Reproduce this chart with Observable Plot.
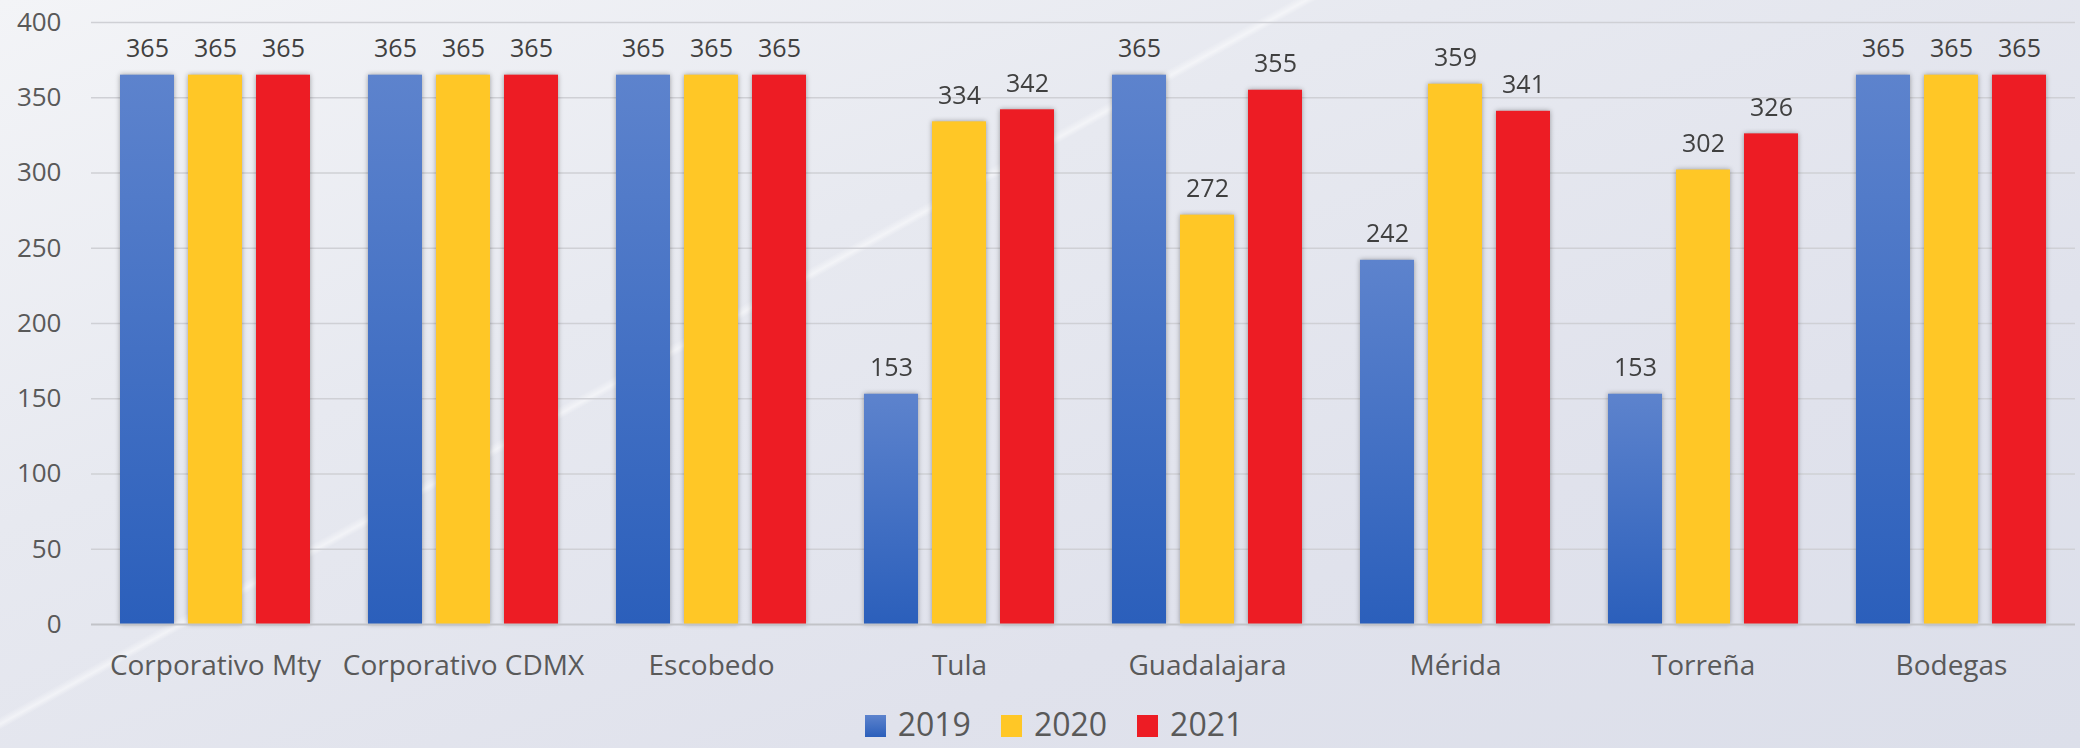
<!DOCTYPE html>
<html><head><meta charset="utf-8">
<script src="https://cdn.jsdelivr.net/npm/d3@7"></script>
<script src="https://cdn.jsdelivr.net/npm/@observablehq/plot@0.6"></script>
<style>
html,body{margin:0;padding:0;}
body{width:2080px;height:748px;overflow:hidden;position:relative;font-family:"Open Sans",sans-serif;
background:
 linear-gradient(-29deg, rgba(255,255,255,0) 61.6%, rgba(255,255,255,0.5) 61.9%, rgba(255,255,255,0) 62.3%),
 linear-gradient(160deg,#f3f4f7 0%,#e7e9f0 35%,#e0e2ec 70%,#dcdfea 100%);}
#chart svg{display:block;}
#legend{display:flex;justify-content:center;align-items:center;height:48px;padding-left:28px;box-sizing:border-box;}
.item{display:flex;align-items:center;margin:0 15px;}
.sw{width:21px;height:22px;margin-right:12px;margin-top:4px;}
.lt{font-size:32px;line-height:32px;color:#595959;}
</style></head><body>
<div id="chart"></div><div id="legend"></div>
<script>
const sites = ["Corporativo Mty","Corporativo CDMX","Escobedo","Tula","Guadalajara","Mérida","Torreña","Bodegas"];
const years = ["2019","2020","2021"];
const v2019 = [365,365,365,153,365,242,153,365];
const v2020 = [365,365,365,334,272,359,302,365];
const v2021 = [365,365,365,342,355,341,326,365];
const yTicks = [0,50,100,150,200,250,300,350,400];
const barColors = ["url(#blueGrad)","#ffc726","#ed1c24"];
const swatchCss = ["linear-gradient(#5d83cd,#2b5fbb)","#ffc726","#ed1c24"];

const series = {"2019": v2019, "2020": v2020, "2021": v2021};
const data = sites.flatMap((s,i)=>years.map(y=>({site:s, year:y, value:series[y][i]})));

const svg = Plot.plot({
  width:2080, height:700,
  marginLeft:91, marginRight:5, marginTop:22, marginBottom:76,
  style:{background:"transparent", fontFamily:"'Open Sans', sans-serif", overflow:"visible"},
  fx:{domain:sites, padding:0, label:null},
  x:{domain:years, paddingInner:0.2, paddingOuter:0.4, axis:null},
  y:{domain:[0,400], axis:null},
  color:{domain:years, range:barColors},
  marks:[
    Plot.gridY(yTicks.filter(t=>t>0), {stroke:"#cfd0d5", strokeOpacity:1, strokeWidth:1.5}),
    Plot.barY(data,{fx:"site", x:"year", y:"value", fill:"year"}),
    Plot.ruleY([0],{stroke:"#c2c3c8", strokeWidth:2}),
    Plot.text(data,{fx:"site", x:"year", y:"value", text:d=>String(d.value), lineAnchor:"bottom", dy:-18, fontSize:25, fill:"#404040"}),
    Plot.axisY(yTicks,{tickSize:0, tickPadding:30, fontSize:26, color:"#595959", label:null}),
    Plot.axisFx({anchor:"bottom", tickSize:0, tickPadding:31, fontSize:28, color:"#595959", label:null})
  ]
});

const ns = "http://www.w3.org/2000/svg";
const defs = document.createElementNS(ns,"defs");
defs.innerHTML = '<linearGradient id="blueGrad" x1="0" y1="0" x2="0" y2="1"><stop offset="0" stop-color="#5d83cd"/><stop offset="1" stop-color="#2b5fbb"/></linearGradient>';
svg.insertBefore(defs, svg.firstChild);
svg.querySelectorAll('g[aria-label="bar"]').forEach(g=>{g.style.filter="drop-shadow(0px 0px 2.5px rgba(0,0,0,0.35))";});
document.getElementById("chart").appendChild(svg);

const leg = document.getElementById("legend");
years.forEach((y,i)=>{
  const it = document.createElement("div"); it.className="item";
  const sw = document.createElement("div"); sw.className="sw"; sw.style.background = swatchCss[i];
  const t = document.createElement("span"); t.className="lt"; t.textContent = y;
  it.appendChild(sw); it.appendChild(t); leg.appendChild(it);
});
</script>
</body></html>
